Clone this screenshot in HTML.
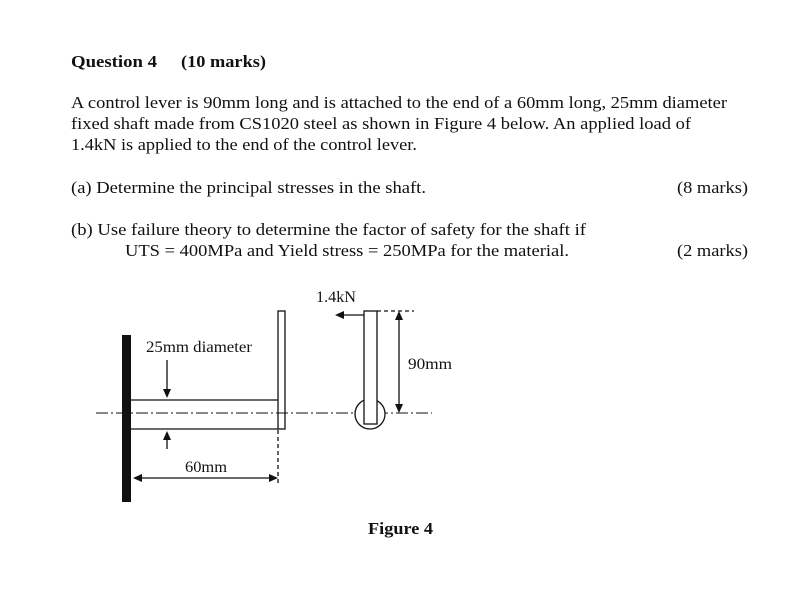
<!DOCTYPE html>
<html><head><style>
html,body{margin:0;padding:0;background:#fff;}
svg{display:block;}
text{font-family:"Liberation Serif",serif;fill:#111;}
</style></head><body>
<svg width="800" height="592" viewBox="0 0 800 592" xmlns="http://www.w3.org/2000/svg">
<g font-size="16.5">
<text x="71" y="67" font-weight="bold" font-size="17" textLength="86" lengthAdjust="spacingAndGlyphs">Question 4</text>
<text x="181" y="67" font-weight="bold" font-size="17" textLength="85" lengthAdjust="spacingAndGlyphs">(10 marks)</text>
<text x="71" y="108" textLength="656" lengthAdjust="spacingAndGlyphs">A control lever is 90mm long and is attached to the end of a 60mm long, 25mm diameter</text>
<text x="71" y="129" textLength="620" lengthAdjust="spacingAndGlyphs">fixed shaft made from CS1020 steel as shown in Figure 4 below. An applied load of</text>
<text x="71" y="150" textLength="346" lengthAdjust="spacingAndGlyphs">1.4kN is applied to the end of the control lever.</text>
<text x="71" y="193" textLength="355" lengthAdjust="spacingAndGlyphs">(a)  Determine the principal stresses in the shaft.</text>
<text x="677" y="193" textLength="71" lengthAdjust="spacingAndGlyphs">(8 marks)</text>
<text x="71" y="235" textLength="515" lengthAdjust="spacingAndGlyphs">(b)  Use failure theory to determine the factor of safety for the shaft if</text>
<text x="125" y="256" textLength="444" lengthAdjust="spacingAndGlyphs">UTS = 400MPa and Yield stress = 250MPa for the material.</text>
<text x="677" y="256" textLength="71" lengthAdjust="spacingAndGlyphs">(2 marks)</text>
</g>
<g stroke="#111" fill="none" stroke-width="1.3">
<rect x="122" y="335" width="9" height="167" fill="#111" stroke="none"/>
<line x1="131" y1="400" x2="278" y2="400"/>
<line x1="131" y1="429" x2="278" y2="429"/>
<rect x="278" y="311" width="7" height="118"/>
<line x1="96" y1="413" x2="432" y2="413" stroke-dasharray="12,3,2,3" stroke-width="1"/>
<circle cx="370" cy="414" r="15" fill="#fff"/>
<rect x="364" y="311" width="13" height="113" fill="#fff"/>
<line x1="377" y1="311" x2="414" y2="311" stroke-dasharray="4,3"/>
<line x1="399" y1="318" x2="399" y2="406"/>
<line x1="278" y1="430" x2="278" y2="486" stroke-dasharray="4,3"/>
<line x1="140" y1="478" x2="270" y2="478"/>
<line x1="167" y1="360" x2="167" y2="390"/>
<line x1="167" y1="440" x2="167" y2="449"/>
<line x1="364" y1="315" x2="343" y2="315"/>
</g>
<g fill="#111">
<polygon points="399,311 395,320 403,320"/>
<polygon points="399,413 395,404 403,404"/>
<polygon points="133,478 142,474 142,482"/>
<polygon points="278,478 269,474 269,482"/>
<polygon points="167,398 163,389 171,389"/>
<polygon points="167,431 163,440 171,440"/>
<polygon points="335,315 344,311 344,319"/>
</g>
<g font-size="15.5">
<text x="316" y="302" textLength="40" lengthAdjust="spacingAndGlyphs">1.4kN</text>
<text x="146" y="352" textLength="106" lengthAdjust="spacingAndGlyphs">25mm diameter</text>
<text x="408" y="369" textLength="44" lengthAdjust="spacingAndGlyphs">90mm</text>
<text x="185" y="472" textLength="42" lengthAdjust="spacingAndGlyphs">60mm</text>
<text x="368" y="534" font-weight="bold" font-size="17" textLength="65" lengthAdjust="spacingAndGlyphs">Figure 4</text>
</g>
</svg>
</body></html>
